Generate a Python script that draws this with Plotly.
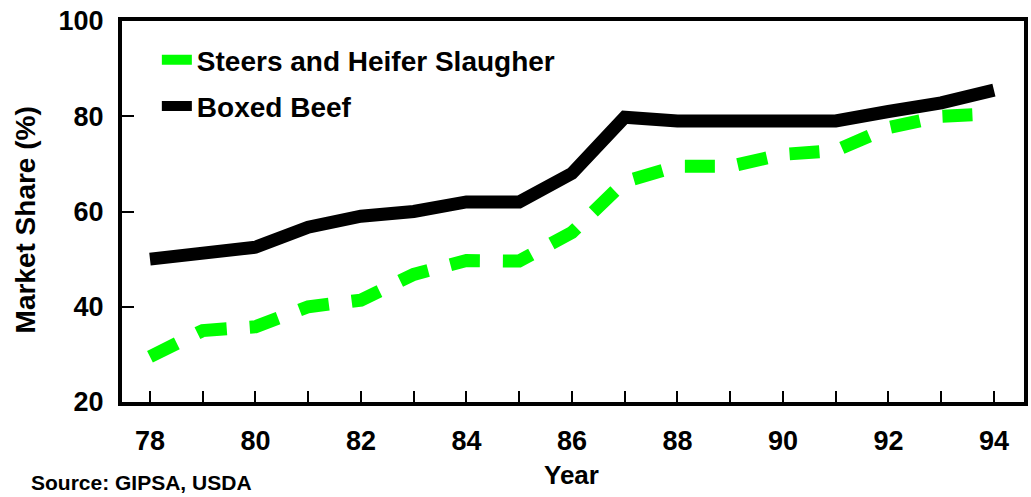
import plotly.graph_objects as go

years = [78, 79, 80, 81, 82, 83, 84, 85, 86, 87, 88, 89, 90, 91, 92, 93, 94]
steers_heifer = [29.5, 35, 35.8, 40, 41.4, 46.8, 49.7, 49.6, 55.6, 66.3, 69.5, 69.5, 72, 72.8, 77.6, 80, 80.5]
boxed_beef = [50, 51, 52.5, 56.7, 59, 60, 62, 62, 68, 79.8, 79, 79, 79, 79, 81, 82.8, 85.5]

x_tickvals = years
x_ticktext = ["78", "", "80", "", "82", "", "84", "", "86", "", "88", "", "90", "", "92", "", "94"]
y_tickvals = [20, 40, 60, 80, 100]

FONT = "Arial, Liberation Sans, sans-serif"

fig = go.Figure()
fig.add_trace(go.Scatter(
    x=years, y=steers_heifer, mode="lines", name="Steers and Heifer Slaugher",
    line=dict(color="#00ff00", width=13, dash="30px,23px"), legendgroup="a"))
fig.add_trace(go.Scatter(
    x=years, y=boxed_beef, mode="lines", name="Boxed Beef",
    line=dict(color="#000000", width=13), legendgroup="b"))

L, R, T, B = 122, 1028, 21, 402
W, H = R - L, B - T

def px(xp):
    return (xp - L) / W

def py(yp):
    return (B - yp) / H

fig.update_layout(
    width=1031, height=497,
    margin=dict(l=L, r=1031 - R, t=T, b=497 - B, pad=0),
    paper_bgcolor="white", plot_bgcolor="white",
    font=dict(family=FONT, color="black", size=27, weight="bold"),
    showlegend=True,
    legend=dict(x=px(157), y=py(35), xanchor="left", yanchor="top",
                bgcolor="rgba(0,0,0,0)", borderwidth=0,
                font=dict(size=28, family=FONT, weight="bold"),
                tracegroupgap=7, itemwidth=30),
    xaxis=dict(range=[77.47, 94.57], tickvals=x_tickvals, ticktext=x_ticktext,
               ticks="inside", ticklen=11, tickwidth=2, tickcolor="black",
               showline=True, linewidth=4, linecolor="black", mirror=True,
               showgrid=False, zeroline=False, ticklabelstandoff=12,
               tickfont=dict(size=27, family=FONT, weight="bold")),
    yaxis=dict(range=[20, 100], tickvals=y_tickvals,
               ticks="inside", ticklen=12, tickwidth=2, tickcolor="black",
               showline=True, linewidth=4, linecolor="black", mirror=True,
               showgrid=False, zeroline=False, ticklabelstandoff=9,
               tickfont=dict(size=27, family=FONT, weight="bold")),
    annotations=[
        dict(text="Year", xref="paper", yref="paper", x=px(573), y=py(475),
             xanchor="center", yanchor="middle", showarrow=False,
             font=dict(size=26, family=FONT, weight="bold")),
        dict(text="Market Share (%)", xref="paper", yref="paper", x=px(25), y=py(220),
             xanchor="center", yanchor="middle", showarrow=False, textangle=-90,
             font=dict(size=28, family=FONT, weight="bold")),
        dict(text="Source: GIPSA, USDA", xref="paper", yref="paper", x=px(29), y=py(482),
             xanchor="left", yanchor="middle", showarrow=False,
             font=dict(size=21, family=FONT, weight="bold")),
    ],
)

fig.write_html("out.html", config={"displayModeBar": False},
               post_script="document.body.style.margin='0px';document.body.style.overflow='hidden';")
